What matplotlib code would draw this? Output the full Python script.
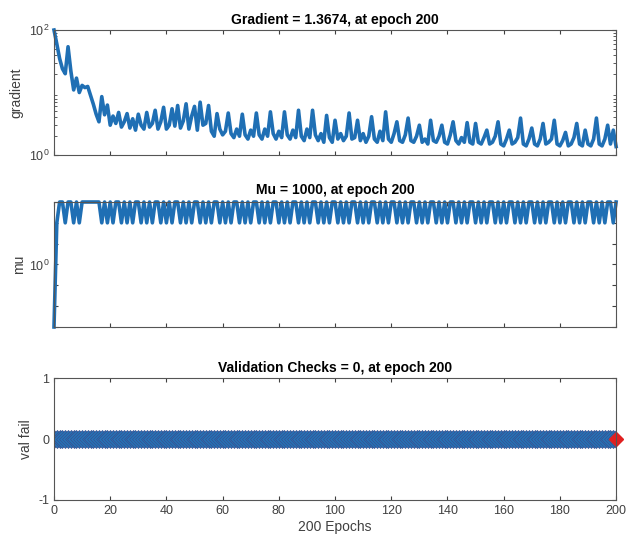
import matplotlib
matplotlib.use("Agg")
import matplotlib.pyplot as plt
import numpy as np
from matplotlib.ticker import FixedLocator, FixedFormatter, LogLocator, NullFormatter

plt.rcParams["font.family"] = ["Liberation Sans", "DejaVu Sans"]
plt.rcParams["mathtext.default"] = "regular"
plt.rcParams["axes.unicode_minus"] = False

# gradient per epoch (0..200)
gradient = [
    100, 60, 35, 24, 20, 54, 22, 11, 17, 10,
    13, 12, 12.5, 9, 6.5, 4.5, 3.4, 8.6, 4.4, 6.3,
    3.0, 4.2, 3.2, 4.8, 2.8, 3.4, 4.6, 2.7, 3.8, 2.5,
    4.5, 3.0, 2.6, 4.8, 2.8, 3.2, 5.2, 2.6, 3.4, 5.8,
    2.6, 3.0, 5.5, 2.9, 6.2, 2.7, 3.5, 6.6, 2.6, 4.2,
    6.0, 2.5, 7.0, 3.0, 3.2, 6.2, 2.4, 2.0, 4.6, 2.6,
    2.1, 2.4, 4.7, 2.2, 1.9, 2.6, 2.0, 4.5, 2.1, 1.8,
    2.5, 2.0, 4.7, 2.1, 1.8, 2.6, 2.0, 4.9, 2.2, 1.8,
    2.4, 1.9, 4.9, 2.1, 1.8, 2.5, 1.9, 5.2, 2.0, 1.7,
    2.6, 1.9, 5.2, 2.1, 1.7, 2.2, 1.6, 4.3, 1.9, 1.6,
    3.6, 1.8, 2.2, 1.7, 2.0, 4.7, 1.8, 1.9, 3.6, 1.7,
    2.2, 1.6, 2.0, 4.1, 1.8, 1.6, 2.4, 1.7, 4.9, 1.8,
    1.6, 2.2, 3.4, 1.7, 1.6, 2.1, 3.9, 1.7, 1.6, 2.0,
    3.0, 1.6, 1.8, 1.5, 3.6, 1.7, 1.6, 2.0, 3.0, 1.6,
    1.5, 2.1, 3.4, 1.7, 1.5, 1.9, 1.6, 3.3, 1.6, 1.5,
    3.2, 1.6, 1.5, 1.9, 2.5, 1.5, 1.6, 2.0, 3.4, 1.5,
    1.4, 1.8, 2.5, 1.5, 1.6, 1.9, 3.9, 1.5, 1.4, 1.8,
    2.7, 1.5, 1.4, 1.8, 3.2, 1.5, 1.6, 1.8, 3.6, 1.5,
    1.4, 1.7, 2.3, 1.4, 1.5, 1.9, 3.2, 1.5, 1.4, 2.5,
    1.5, 1.4, 1.8, 3.9, 1.5, 1.4, 1.8, 3.0, 1.5, 2.5,
    1.3674,
]

# log10(mu) per epoch (0..200)
mu_exp = [
    -3, 2, 3, 3, 2, 3, 3, 2, 3, 2,
    3, 3, 3, 3, 3, 3, 3,
    2, 3, 2, 3, 2, 3, 3, 2, 3, 2, 3, 2, 3, 3, 2, 3, 2, 3, 2, 3, 3,
    2, 3, 2, 3, 2, 3, 3, 2, 3, 2, 3, 2, 3, 3, 2, 3, 2, 3, 2, 3, 3,
    2, 3, 2, 3, 2, 3, 3, 2, 3, 2, 3, 2, 3, 3, 2, 3, 2, 3, 2, 3, 3,
    2, 3, 2, 3, 2, 3, 3, 2, 3, 2, 3, 2, 3, 3, 2, 3, 2, 3, 2, 3, 3,
    2, 3, 2, 3, 2, 3, 3, 2, 3, 2, 3, 2, 3, 3, 2, 3, 2, 3, 2, 3, 3,
    2, 3, 2, 3, 2, 3, 3, 2, 3, 2, 3, 2, 3, 3, 2, 3, 2, 3, 2, 3, 3,
    2, 3, 2, 3, 2, 3, 3, 2, 3, 2, 3, 2, 3, 3, 2, 3, 2, 3, 2, 3, 3,
    2, 3, 2, 3, 2, 3, 3, 2, 3, 2, 3, 2, 3, 3, 2, 3, 2, 3, 2, 3, 3,
    2, 3, 2, 3, 2, 3, 3, 2, 3, 2, 3, 2, 3, 3,
    2, 3,
]

val_fail = [0] * 201

epochs = np.arange(len(gradient))
mu = 10.0 ** np.array(mu_exp, dtype=float)

BLUE = "#1f6fb4"
GRAY = "#404040"

fig = plt.figure(figsize=(6.33, 5.42), dpi=100)
ax1 = fig.add_axes([0.0853, 0.714, 0.888, 0.2306])
ax2 = fig.add_axes([0.0853, 0.3967, 0.888, 0.2306])
ax3 = fig.add_axes([0.0853, 0.0775, 0.888, 0.225])


def style(ax):
    ax.set_xlim(0, 200)
    ax.xaxis.set_major_locator(FixedLocator(np.arange(0, 201, 20)))
    ax.tick_params(direction="in", top=True, right=True, length=3,
                   colors=GRAY, labelsize=9, labelcolor=GRAY)
    ax.tick_params(which="minor", direction="in", right=True, length=2, colors=GRAY)
    for s in ax.spines.values():
        s.set_color("#555555")
        s.set_linewidth(0.8)


# gradient
ax1.semilogy(epochs, gradient, color=BLUE, lw=2.6, clip_on=False)
ax1.set_ylim(1, 100)
ax1.yaxis.set_major_locator(FixedLocator([1, 100]))
ax1.yaxis.set_major_formatter(FixedFormatter([r"$10^0$", r"$10^2$"]))
ax1.yaxis.set_minor_locator(LogLocator(base=10, subs=np.arange(2, 10)))
ax1.yaxis.set_minor_formatter(NullFormatter())
style(ax1)
ax1.set_xticklabels([])
ax1.set_ylabel("gradient", fontsize=10, color=GRAY)
ax1.set_title("Gradient = 1.3674, at epoch 200", fontsize=10, fontweight="bold", pad=4)

# mu
ax2.semilogy(epochs, mu, color=BLUE, lw=2.6, clip_on=False)
ax2.set_ylim(1e-3, 1e3)
decades = [1e-3, 1e-2, 1e-1, 1e0, 1e1, 1e2, 1e3]
ax2.yaxis.set_major_locator(FixedLocator(decades))
ax2.yaxis.set_major_formatter(FixedFormatter(["", "", "", r"$10^0$", "", "", ""]))
ax2.yaxis.set_minor_locator(FixedLocator([]))
style(ax2)
ax2.set_xticklabels([])
ax2.set_ylabel("mu", fontsize=10, color=GRAY, labelpad=2)
ax2.set_title("Mu = 1000, at epoch 200", fontsize=10, fontweight="bold", pad=6)

# validation checks
ax3.plot(epochs, val_fail, color=BLUE, lw=2, marker="D", markersize=9.5,
         markerfacecolor="#2474b8", markeredgecolor="#3a4f8e", markeredgewidth=0.5)
ax3.plot(epochs[-1:], val_fail[-1:], linestyle="none", marker="D", markersize=7,
         markerfacecolor="#e02020", markeredgecolor="#e02020", clip_on=False)
ax3.set_ylim(-1, 1)
ax3.yaxis.set_major_locator(FixedLocator([-1, 0, 1]))
style(ax3)
ax3.set_ylabel("val fail", fontsize=10, color=GRAY)
ax3.set_xlabel("200 Epochs", fontsize=10, color=GRAY, labelpad=2)
ax3.set_title("Validation Checks = 0, at epoch 200", fontsize=10, fontweight="bold", pad=4)

fig.savefig("out.png", dpi=100)
